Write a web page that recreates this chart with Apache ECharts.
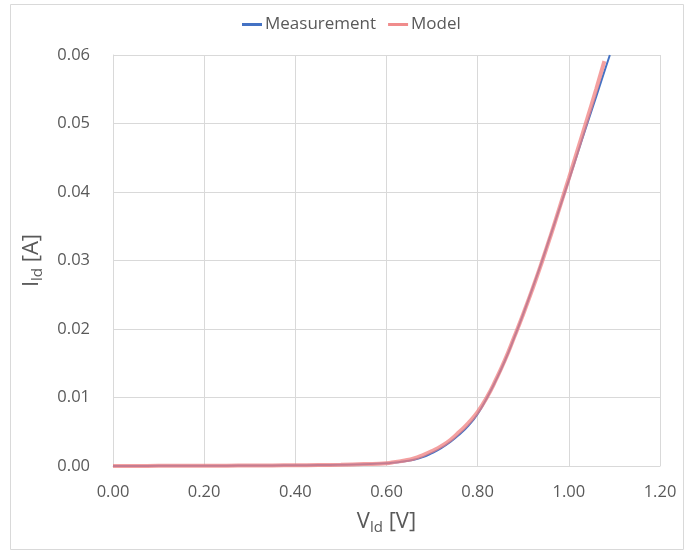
<!DOCTYPE html>
<html>
<head>
<meta charset="utf-8">
<script src="https://cdn.jsdelivr.net/npm/echarts@6/dist/echarts.min.js"></script>
<style>
	html, body { margin: 0; padding: 0; background: #fff; }
	#chart { width: 684px; height: 552px; }
</style>
</head>
<body>
<div id="chart"></div>
<script>
	// ______________ DATA
	var xTicks = ['0.00', '0.20', '0.40', '0.60', '0.80', '1.00', '1.20'];
	var yTicks = ['0.00', '0.01', '0.02', '0.03', '0.04', '0.05', '0.06'];

	var measV = [0.00, 0.05, 0.10, 0.15, 0.20, 0.25, 0.30, 0.35, 0.40, 0.45, 0.50, 0.55, 0.60, 0.62, 0.64, 0.66, 0.68, 0.70, 0.72, 0.74, 0.76, 0.78, 0.80, 0.82, 0.84, 0.86, 0.88, 0.90, 0.92, 0.94, 0.96, 0.98, 1.00, 1.02, 1.04, 1.06, 1.08, 1.09];
	var measI = [0, 0.00001, 0.00002, 0.00003, 0.00004, 0.00005, 0.00007, 0.00009, 0.00011, 0.00014, 0.00018, 0.00026, 0.0004, 0.0005, 0.0007, 0.0009, 0.0013, 0.0019, 0.0026, 0.0035, 0.0046, 0.0059, 0.0076, 0.0099, 0.0125, 0.0154, 0.0187, 0.0222, 0.0259, 0.0297, 0.0337, 0.0377, 0.0417, 0.0458, 0.0499, 0.0539, 0.0580, 0.0600];

	var modelV = [0.00, 0.05, 0.10, 0.15, 0.20, 0.25, 0.30, 0.35, 0.40, 0.45, 0.50, 0.55, 0.60, 0.62, 0.64, 0.66, 0.68, 0.70, 0.72, 0.74, 0.76, 0.78, 0.80, 0.82, 0.84, 0.86, 0.88, 0.90, 0.92, 0.94, 0.96, 0.98, 1.00, 1.02, 1.04, 1.06, 1.078];
	var modelI = [0, 0.00001, 0.00002, 0.00003, 0.00004, 0.00005, 0.00007, 0.00009, 0.00011, 0.00014, 0.00019, 0.00028, 0.0004, 0.0006, 0.0008, 0.0011, 0.0016, 0.0022, 0.0029, 0.0038, 0.0050, 0.0063, 0.0079, 0.0100, 0.0126, 0.0155, 0.0188, 0.0222, 0.0258, 0.0296, 0.0336, 0.0378, 0.0420, 0.0463, 0.0506, 0.0550, 0.0591];

	function pairs(xs, ys) {
		var out = [];
		for (var i = 0; i < xs.length; i++) out.push([xs[i], ys[i]]);
		return out;
	}

	var FONT = '"Open Sans", "Noto Sans", sans-serif';
	var TXT = '#595959';
	var GRID = '#d9d9d9';

	var chart = echarts.init(document.getElementById('chart'), null, { renderer: 'canvas' });
	chart.setOption({
		animation: false,
		textStyle: { fontFamily: FONT },
		graphic: [{
			type: 'rect',
			shape: { x: 10.5, y: 4.5, width: 673, height: 545 },
			style: { fill: 'none', stroke: GRID, lineWidth: 1 },
			silent: true
		}],
		legend: {
			top: 11,
			left: 237,
			itemWidth: 20,
			itemHeight: 3,
			itemGap: 12,
			icon: 'rect',
			textStyle: { color: TXT, fontSize: 17, fontFamily: FONT, padding: [0, 0, 0, -2] },
			data: ['Measurement', 'Model']
		},
		grid: { left: 113, right: 24, top: 55, bottom: 86 },
		xAxis: {
			type: 'value',
			min: 0, max: 1.2, interval: 0.2,
			name: '{a|V}{b|ld}{a| [V]}',
			nameLocation: 'middle',
			nameGap: 43,
			nameTextStyle: {
				rich: {
					a: { fontSize: 22, color: TXT, fontFamily: FONT },
					b: { fontSize: 15, color: TXT, fontFamily: FONT, padding: [11, 0, 0, 0] }
				}
			},
			axisLine: { show: true, lineStyle: { color: GRID } },
			axisTick: { show: false },
			splitLine: { show: true, lineStyle: { color: GRID } },
			axisLabel: {
				color: TXT, fontSize: 16.5, margin: 18,
				formatter: function(v) { return xTicks[Math.round(v / 0.2)]; }
			}
		},
		yAxis: {
			type: 'value',
			min: 0, max: 0.06, interval: 0.01,
			name: '{a|I}{b|ld}{a| [A]}',
			nameLocation: 'middle',
			nameGap: 68,
			nameTextStyle: {
				rich: {
					a: { fontSize: 22, color: TXT, fontFamily: FONT },
					b: { fontSize: 15, color: TXT, fontFamily: FONT, padding: [11, 0, 0, 0] }
				}
			},
			axisLine: { show: true, lineStyle: { color: GRID } },
			axisTick: { show: false },
			splitLine: { show: true, lineStyle: { color: GRID } },
			axisLabel: {
				color: TXT, fontSize: 16.5, margin: 23,
				formatter: function(v) { return yTicks[Math.round(v / 0.01)]; }
			}
		},
		series: [{
			name: 'Measurement',
			type: 'line',
			smooth: true,
			showSymbol: false,
			data: pairs(measV, measI),
			itemStyle: { color: '#4472c4' },
			lineStyle: { color: '#4472c4', width: 2 },
			z: 2
		}, {
			name: 'Model',
			type: 'line',
			smooth: true,
			showSymbol: false,
			data: pairs(modelV, modelI),
			itemStyle: { color: '#f08c8c' },
			lineStyle: { color: '#f08080', width: 4, opacity: 0.75 },
			z: 3
		}]
	});
</script>
</body>
</html>
